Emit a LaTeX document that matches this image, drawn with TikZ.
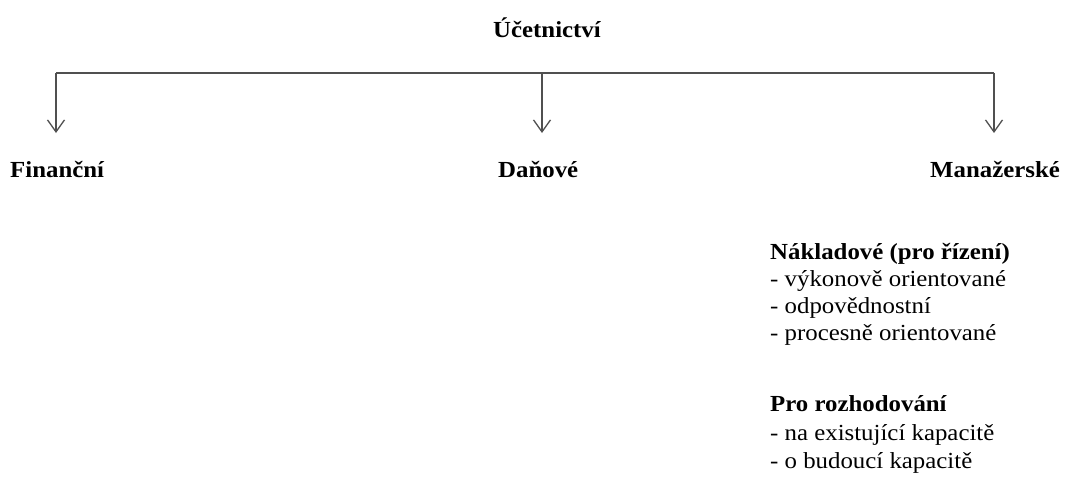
\documentclass[tikz,border=0pt]{standalone}
\usepackage{fontspec}
\setmainfont{Liberation Serif}[FakeStretch=1.08]
\usetikzlibrary{arrows.meta}
\definecolor{linegray}{HTML}{505050}
\tikzset{
  lbl/.style={anchor=base west, inner sep=0pt, font=\fontsize{23}{27}\selectfont},
  hd/.style={lbl, font=\fontsize{23}{27}\selectfont\bfseries},
  conn/.style={draw=linegray, line width=1.4pt},
  arr/.style={conn, -{Straight Barb[length=12pt,width=17pt,line width=1.3pt]}}
}
\begin{document}
\begin{tikzpicture}[x=1pt,y=-1pt]
\useasboundingbox (0,0) rectangle (1066,477);
\node[hd, anchor=base] (title) at (547,37) {Účetnictví};
\coordinate (j1) at (56,73);
\coordinate (j2) at (542,73);
\coordinate (j3) at (994,73);
\coordinate (t1) at (56,133);
\coordinate (t2) at (542,133);
\coordinate (t3) at (994,133);
\draw[conn] (j1) -- (j3);
\draw[arr] (j1) -- (t1);
\draw[arr] (j2) -- (t2);
\draw[arr] (j3) -- (t3);
\node[hd] (fin) at (10,177) {Finanční};
\node[hd] (dan) at (498,177) {Daňové};
\node[hd] (man) at (930,177) {Manažerské};
\node[hd] (nak) at (770,259) {Nákladové (pro řízení)};
\node[lbl] (n1) at (770,286) {- výkonově orientované};
\node[lbl] (n2) at (770,313) {- odpovědnostní};
\node[lbl] (n3) at (770,340) {- procesně orientované};
\node[hd] (pro) at (770,411) {Pro rozhodování};
\node[lbl] (p1) at (770,440) {- na existující kapacitě};
\node[lbl] (p2) at (770,468) {- o budoucí kapacitě};
\end{tikzpicture}
\end{document}
